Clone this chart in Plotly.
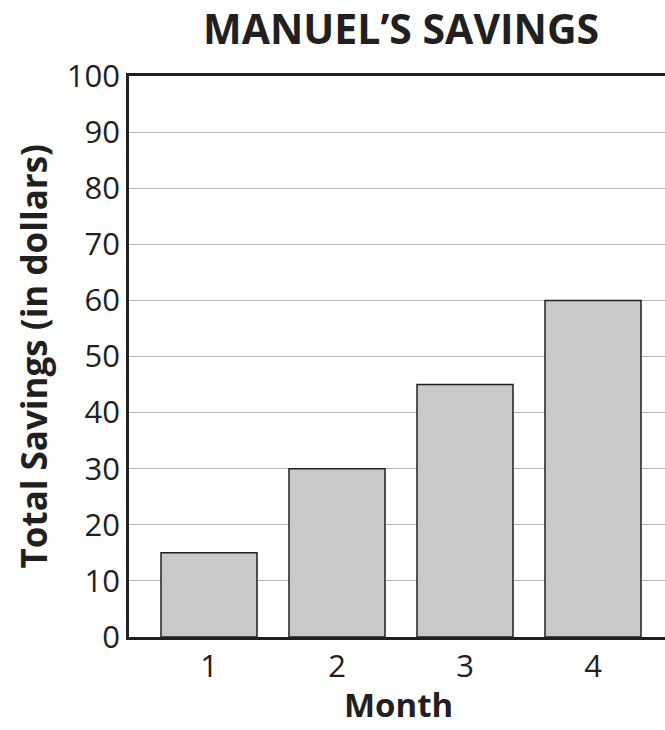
import plotly.graph_objects as go

months = [1, 2, 3, 4]
savings = [15, 30, 45, 60]
y_ticks = [0, 10, 20, 30, 40, 50, 60, 70, 80, 90, 100]

W, H = 665, 730
L, R, T, B = 129, 0, 76, 93

fig = go.Figure(go.Bar(
    x=months, y=savings, width=0.75,
    marker=dict(color="#c8c9cb", line=dict(color="#231f20", width=1.5)),
))

FONT = "Open Sans"
fig.update_layout(
    width=W, height=H,
    margin=dict(l=L, r=R, t=T, b=B),
    paper_bgcolor="white", plot_bgcolor="white",
    showlegend=False,
    font=dict(family=FONT, color="#231f20"),
    xaxis=dict(range=[0.375, 4.5625], tickvals=months, ticktext=[str(m) for m in months],
               showgrid=False, showline=True, linecolor="#231f20", linewidth=2.5,
               mirror=True, ticks="", tickfont=dict(size=31), zeroline=False),
    yaxis=dict(range=[0, 100], tickvals=y_ticks, showgrid=True, gridcolor="#b5b5b5",
               gridwidth=1, showline=True, linecolor="#231f20", linewidth=2.5,
               ticks="", tickfont=dict(size=31), zeroline=False),
    annotations=[
        dict(text="<b>MANUEL’S SAVINGS</b>", xref="paper", yref="paper",
             x=(401 - L) / (W - L - R), y=1 + (T - 28) / (H - T - B),
             showarrow=False, font=dict(size=41, family=FONT), xanchor="center", yanchor="middle"),
        dict(text="<b>Month</b>", xref="paper", yref="paper",
             x=(398 - L) / (W - L - R), y=-(H - B - 1 - 731 + 731 - (H - 1)) / (H - T - B) if False else -(B - 1) / (H - T - B),
             showarrow=False, font=dict(size=33, family=FONT), xanchor="center", yanchor="bottom"),
        dict(text="<b>Total Savings (in dollars)</b>", xref="paper", yref="paper",
             x=-(L - 33) / (W - L - R), y=0.5, textangle=-90,
             showarrow=False, font=dict(size=35, family=FONT), xanchor="center", yanchor="middle"),
    ],
)

fig.write_html("out.html", config={"displayModeBar": False},
               post_script="document.body.style.margin='0';document.body.style.overflow='hidden';")
